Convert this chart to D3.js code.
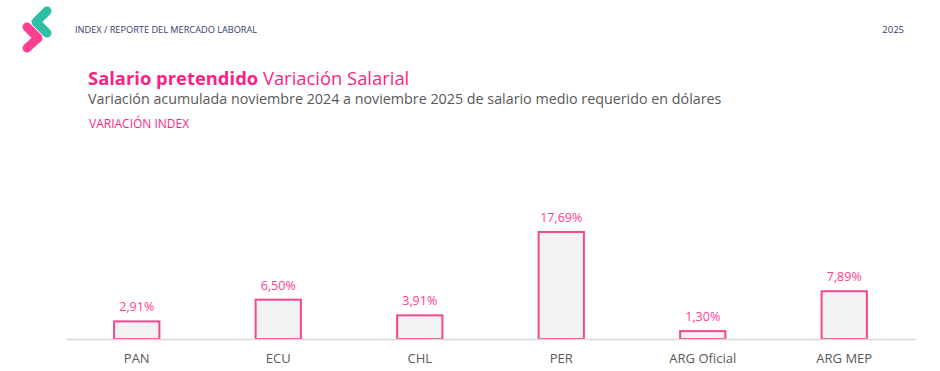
<!DOCTYPE html>
<html>
<head>
<meta charset="utf-8">
<script src="https://cdn.jsdelivr.net/npm/d3@7"></script>
<style>
  body { margin: 0; background: #fff; }
  text { font-family: "Open Sans", "Noto Sans", sans-serif; }
</style>
</head>
<body>
<div id="rootDiv"></div>
<script>
// data
const categories = ["PAN", "ECU", "CHL", "PER", "ARG Oficial", "ARG MEP"]
const values = [2.91, 6.50, 3.91, 17.69, 1.30, 7.89]
const valueLabels = ["2,91%", "6,50%", "3,91%", "17,69%", "1,30%", "7,89%"]

const pink = "#ff1f84"
const barStroke = "#f2478f"
const labelPink = "#ff3d93"
const gray = "#595959"
const navy = "#34406b"

const width = 940
const height = 371
const margin = { top: 218, right: 25, bottom: 32, left: 66 }

const svg = d3.select(document.getElementById("rootDiv"))
    .append("svg")
    .attr("width", width)
    .attr("height", height)

// logo
const logo = svg.append("g")
logo.append("path")
    .attr("d", "M47,11 L36,22 L47,33")
    .attr("fill", "none")
    .attr("stroke", "#2ebfa5")
    .attr("stroke-width", 9)
    .attr("stroke-linejoin", "round")
    .attr("stroke-linecap", "round")
logo.append("path")
    .attr("d", "M27,27 L38,38 L27,48")
    .attr("fill", "none")
    .attr("stroke", "#ff2a86")
    .attr("stroke-width", 9)
    .attr("stroke-linejoin", "round")
    .attr("stroke-linecap", "round")
    .attr("opacity", 0.9)

svg.append("text")
    .attr("x", 75)
    .attr("y", 33)
    .attr("font-size", 9.2)
    .attr("fill", navy)
    .text("INDEX / REPORTE DEL MERCADO LABORAL")

svg.append("text")
    .attr("x", 904)
    .attr("y", 33)
    .attr("text-anchor", "end")
    .attr("font-size", 9.5)
    .attr("fill", navy)
    .text("2025")

// titles
const title = svg.append("text")
    .attr("x", 88)
    .attr("y", 85)
    .attr("font-size", 18.4)
    .attr("fill", pink)
title.append("tspan").attr("font-weight", "bold").text("Salario pretendido")
title.append("tspan").text(" Variación Salarial")

svg.append("text")
    .attr("x", 88)
    .attr("y", 104)
    .attr("font-size", 14.3)
    .attr("fill", gray)
    .text("Variación acumulada noviembre 2024 a noviembre 2025 de salario medio requerido en dólares")

svg.append("text")
    .attr("x", 89)
    .attr("y", 128)
    .attr("font-size", 12)
    .attr("fill", pink)
    .text("VARIACIÓN INDEX")

// scales
const x = d3.scaleBand()
    .domain(categories)
    .range([margin.left, width - margin.right])
    .paddingInner(0.68)
    .paddingOuter(0.34)

const y = d3.scaleLinear()
    .domain([0, 20])
    .range([height - margin.bottom, margin.top])

// bars
svg.selectAll("rect.bar")
    .data(values)
    .enter()
    .append("rect")
    .attr("class", "bar")
    .attr("x", (_d, i) => x(categories[i]))
    .attr("y", d => y(d))
    .attr("width", x.bandwidth())
    .attr("height", d => y(0) - y(d))
    .attr("fill", "#f2f2f2")
    .attr("stroke", barStroke)
    .attr("stroke-width", 2)

// value labels
svg.selectAll("text.label")
    .data(values)
    .enter()
    .append("text")
    .attr("class", "label")
    .attr("text-anchor", "middle")
    .attr("x", (_d, i) => x(categories[i]) + x.bandwidth() / 2)
    .attr("y", d => y(d) - 10)
    .attr("font-size", 12.5)
    .attr("fill", labelPink)
    .text((_d, i) => valueLabels[i])

// x axis
const xAxis = svg.append("g")
    .attr("transform", `translate(0,${y(0)})`)
    .call(d3.axisBottom(x).tickSize(0).tickPadding(15))
xAxis.select("path").style("stroke", "#d9d9d9").style("stroke-width", 1.5)
xAxis.selectAll("text")
    .style("fill", gray)
    .style("font-size", "13px")
    .style("font-family", "'Open Sans', sans-serif")
</script>
</body>
</html>
